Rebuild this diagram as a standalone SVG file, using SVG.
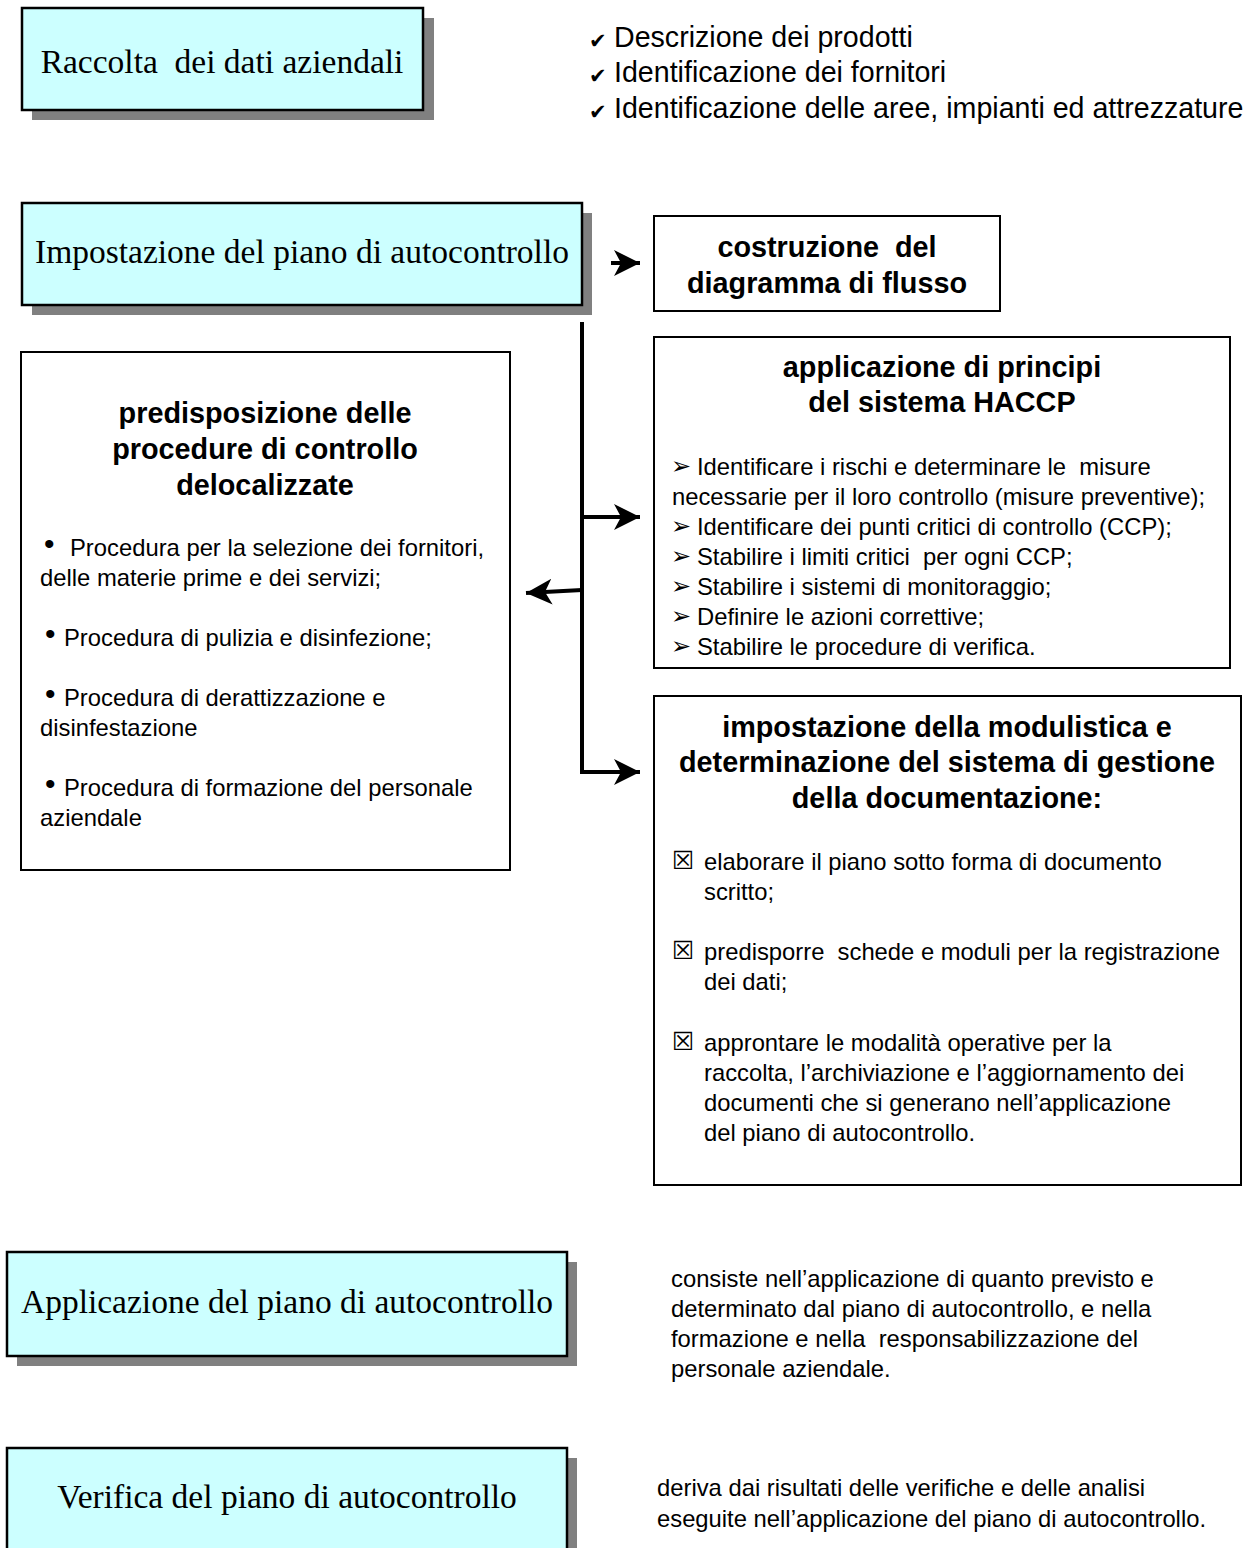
<svg xmlns="http://www.w3.org/2000/svg" width="1258" height="1548" viewBox="0 0 1258 1548">
<defs>
<style>
.shadow{fill:#808080}
.cyan{fill:#ccffff;stroke:#000;stroke-width:2.5}
.plain{fill:#fff;stroke:#000;stroke-width:2}
.serif{font-family:"Liberation Serif","Times New Roman",serif;font-size:33.5px;fill:#000}
.title{font-family:"Liberation Sans",Arial,sans-serif;font-size:28.8px;font-weight:bold;fill:#000;text-anchor:middle;white-space:pre}
.body{font-family:"Liberation Sans",Arial,sans-serif;font-size:23.8px;fill:#000;white-space:pre}
.bul{font-family:"Liberation Sans",Arial,sans-serif;font-size:30px;fill:#000}
.list{font-family:"Liberation Sans",Arial,sans-serif;font-size:28.6px;fill:#000;white-space:pre}
.sym{font-family:"DejaVu Sans",sans-serif;fill:#000}
.conn{fill:none;stroke:#000;stroke-width:4}
</style>
<marker id="ah" markerUnits="userSpaceOnUse" markerWidth="28" markerHeight="28" refX="26" refY="13" orient="auto">
<path d="M0,0 L26,13 L0,26 L7,13 Z" fill="#000"/>
</marker>
</defs>
<rect width="1258" height="1548" fill="#fff"/>

<g id="raccolta">
<rect class="shadow" x="32" y="18" width="402" height="102"/>
<rect class="cyan" x="22" y="8" width="401" height="102"/>
<text class="serif" x="222" y="73" text-anchor="middle" style="white-space:pre">Raccolta  dei dati aziendali</text>
</g>

<g id="raccolta-list">
<text class="sym" x="589" y="48" font-size="21">✔</text>
<text class="list" x="614" y="47">Descrizione dei prodotti</text>
<text class="sym" x="589" y="83" font-size="21">✔</text>
<text class="list" x="614" y="82">Identificazione dei fornitori</text>
<text class="sym" x="589" y="119" font-size="21">✔</text>
<text class="list" x="614" y="118">Identificazione delle aree, impianti ed attrezzature</text>
</g>

<g id="impostazione">
<rect class="shadow" x="32" y="213" width="560" height="102"/>
<rect class="cyan" x="22" y="203" width="560" height="102"/>
<text class="serif" x="302" y="263" text-anchor="middle">Impostazione del piano di autocontrollo</text>
</g>

<g id="costruzione">
<rect class="plain" x="654" y="216" width="346" height="95"/>
<text class="title" x="827" y="257">costruzione  del</text>
<text class="title" x="827" y="293">diagramma di flusso</text>
</g>

<g id="predisposizione">
<rect class="plain" x="21" y="352" width="489" height="518"/>
<text class="title" x="265" y="423">predisposizione delle</text>
<text class="title" x="265" y="459">procedure di controllo</text>
<text class="title" x="265" y="495">delocalizzate</text>
<text class="bul" x="44" y="554">•</text>
<text class="body" x="70" y="556">Procedura per la selezione dei fornitori,</text>
<text class="body" x="40" y="586">delle materie prime e dei servizi;</text>
<text class="bul" x="45" y="644">•</text>
<text class="body" x="64" y="646">Procedura di pulizia e disinfezione;</text>
<text class="bul" x="45" y="704">•</text>
<text class="body" x="64" y="706">Procedura di derattizzazione e</text>
<text class="body" x="40" y="736">disinfestazione</text>
<text class="bul" x="45" y="794">•</text>
<text class="body" x="64" y="796">Procedura di formazione del personale</text>
<text class="body" x="40" y="826">aziendale</text>
</g>

<g id="haccp">
<rect class="plain" x="654" y="337" width="576" height="331"/>
<text class="title" x="942" y="377">applicazione di principi</text>
<text class="title" x="942" y="412">del sistema HACCP</text>
<g class="sym" font-size="24">
<text x="671" y="474">➢</text>
<text x="671" y="534">➢</text>
<text x="671" y="564">➢</text>
<text x="671" y="594">➢</text>
<text x="671" y="624">➢</text>
<text x="671" y="654">➢</text>
</g>
<text class="body" x="697" y="475">Identificare i rischi e determinare le  misure</text>
<text class="body" x="672" y="505">necessarie per il loro controllo (misure preventive);</text>
<text class="body" x="697" y="535">Identificare dei punti critici di controllo (CCP);</text>
<text class="body" x="697" y="565">Stabilire i limiti critici  per ogni CCP;</text>
<text class="body" x="697" y="595">Stabilire i sistemi di monitoraggio;</text>
<text class="body" x="697" y="625">Definire le azioni correttive;</text>
<text class="body" x="697" y="655">Stabilire le procedure di verifica.</text>
</g>

<g id="modulistica">
<rect class="plain" x="654" y="696" width="587" height="489"/>
<text class="title" x="947" y="737">impostazione della modulistica e</text>
<text class="title" x="947" y="772">determinazione del sistema di gestione</text>
<text class="title" x="947" y="808">della documentazione:</text>
<g class="sym" font-size="25">
<text x="672" y="869">☒</text>
<text x="672" y="959">☒</text>
<text x="672" y="1050">☒</text>
</g>
<text class="body" x="704" y="870">elaborare il piano sotto forma di documento</text>
<text class="body" x="704" y="900">scritto;</text>
<text class="body" x="704" y="960">predisporre  schede e moduli per la registrazione</text>
<text class="body" x="704" y="990">dei dati;</text>
<text class="body" x="704" y="1051">approntare le modalità operative per la</text>
<text class="body" x="704" y="1081">raccolta, l’archiviazione e l’aggiornamento dei</text>
<text class="body" x="704" y="1111">documenti che si generano nell’applicazione</text>
<text class="body" x="704" y="1141">del piano di autocontrollo.</text>
</g>

<g id="applicazione">
<rect class="shadow" x="17" y="1262" width="560" height="104"/>
<rect class="cyan" x="7" y="1252" width="560" height="104"/>
<text class="serif" x="287" y="1313" text-anchor="middle">Applicazione del piano di autocontrollo</text>
</g>

<g id="applicazione-desc">
<text class="body" x="671" y="1287">consiste nell’applicazione di quanto previsto e</text>
<text class="body" x="671" y="1317">determinato dal piano di autocontrollo, e nella</text>
<text class="body" x="671" y="1347">formazione e nella  responsabilizzazione del</text>
<text class="body" x="671" y="1377">personale aziendale.</text>
</g>

<g id="verifica">
<rect class="shadow" x="17" y="1458" width="560" height="100"/>
<rect class="cyan" x="7" y="1448" width="560" height="110"/>
<text class="serif" x="287" y="1508" text-anchor="middle">Verifica del piano di autocontrollo</text>
</g>

<g id="verifica-desc">
<text class="body" x="657" y="1496">deriva dai risultati delle verifiche e delle analisi</text>
<text class="body" x="657" y="1527">eseguite nell’applicazione del piano di autocontrollo.</text>
</g>

<g id="connectors">
<path d="M611,263 L640,263" class="conn" marker-end="url(#ah)"/>
<path d="M582,322 L582,772 L640,772" class="conn" stroke-linejoin="miter" marker-end="url(#ah)"/>
<path d="M582,517 L640,517" class="conn" marker-end="url(#ah)"/>
<path d="M582,590 L526,593" class="conn" marker-end="url(#ah)"/>
</g>
</svg>
